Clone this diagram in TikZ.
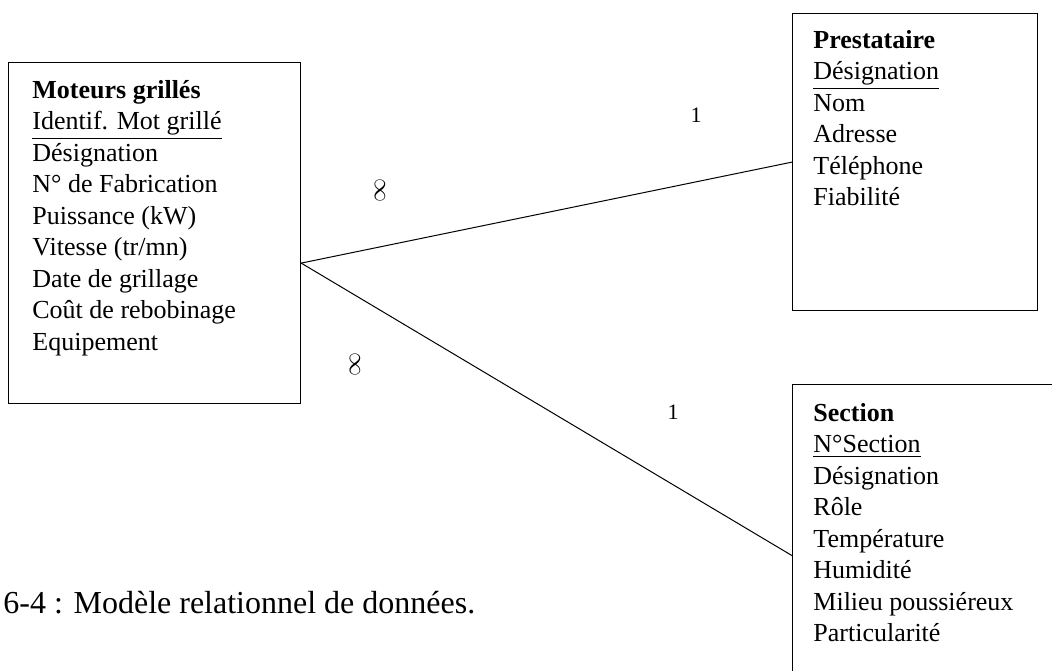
\documentclass[tikz,border=0pt]{standalone}
\usepackage{fontspec}
\setmainfont{Liberation Serif}
\usetikzlibrary{positioning}

\tikzset{
	entite/.style={draw, line width=0.6pt, anchor=north west, inner sep=0pt},
	attributs/.style={align=left, inner sep=0pt,
		font=\fontsize{13}{15.75}\selectfont},
	lien/.style={line width=0.5pt},
	card/.style={inner sep=0pt, font=\fontsize{11}{13}\selectfont},
	infini/.style={inner sep=0pt, rotate=90, font=\fontsize{13}{15}\selectfont}
}

\begin{document}
\begin{tikzpicture}[x=0.5pt, y=-0.5pt]
\useasboundingbox (0,0) rectangle (1052,670);
\clip (0,0) rectangle (1052,670);

% les trois tables
\node[entite, minimum width=146pt, minimum height=170.5pt] (moteurs) at (8,62) {};
\node[entite, minimum width=122.5pt, minimum height=148.5pt] (prestataire) at (792,13) {};
\node[entite, minimum width=150pt, minimum height=171pt] (section) at (792,384) {};

\node[attributs, below right=9pt and 12pt of moteurs.north west] (moteurs-attr) {
	\textbf{Moteurs grillés}\\
	\underline{Identif. Mot grillé}\\
	Désignation\\
	N° de Fabrication\\
	Puissance (kW)\\
	Vitesse (tr/mn)\\
	Date de grillage\\
	Coût de rebobinage\\
	Equipement};
\node[attributs, below right=8.5pt and 10.5pt of prestataire.north west] (prestataire-attr) {
	\textbf{Prestataire}\\
	\underline{Désignation}\\
	Nom\\
	Adresse\\
	Téléphone\\
	Fiabilité};
\node[attributs, below right=9.5pt and 10.5pt of section.north west] (section-attr) {
	\textbf{Section}\\
	\underline{N°Section}\\
	Désignation\\
	Rôle\\
	Température\\
	Humidité\\
	Milieu poussiéreux\\
	Particularité};

% relations
\draw[lien] ([yshift=-15pt]moteurs.east) coordinate (pivot) -- (prestataire.west);
\draw[lien] (pivot) -- (section.west);

% cardinalites
\node[infini] (card-mp) at (380,190) {$\infty$};
\node[card] (card-pm) at (696,115) {1};
\node[infini] (card-ms) at (355,364) {$\infty$};
\node[card] (card-sm) at (673,412) {1};

\node[anchor=west, inner sep=0pt, font=\fontsize{16}{19}\selectfont] (legende) at (3,603)
	{6-4 : Modèle relationnel de données.};
\end{tikzpicture}
\end{document}
